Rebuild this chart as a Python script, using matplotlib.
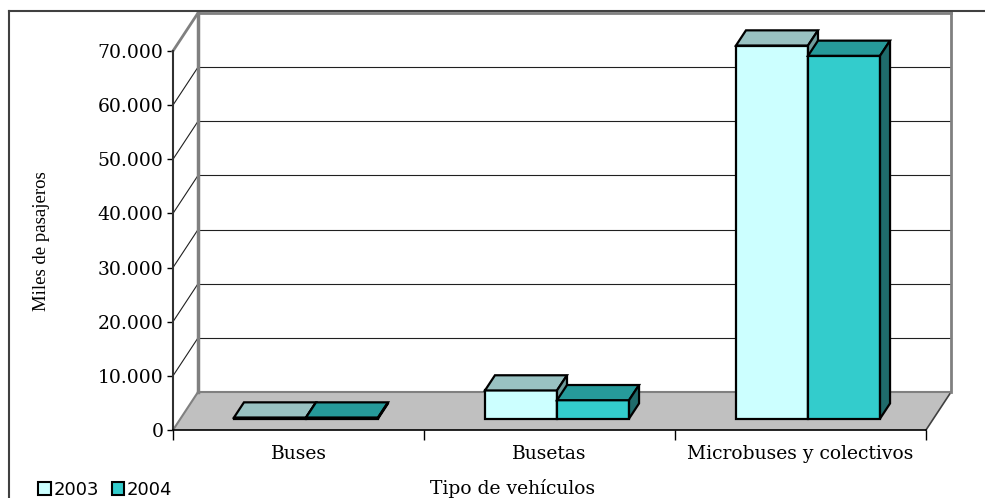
import matplotlib
matplotlib.use("Agg")
import matplotlib.pyplot as plt
from matplotlib.patches import Polygon, Patch
from matplotlib.lines import Line2D

# data
categories = ["Buses", "Busetas", "Microbuses y colectivos"]
series_names = ["2003", "2004"]
values_2003 = [200, 5200, 68900]
values_2004 = [200, 3400, 67000]
y_ticks = [0, 10000, 20000, 30000, 40000, 50000, 60000, 70000]

front_colors = ["#CCFFFF", "#33CCCC"]
top_colors = ["#99C2C2", "#269A9A"]
side_colors = ["#6E9C9C", "#1F6B6B"]

# fake 3d: depth offset of the back wall, in data units
DEPTH_X = 25 / 251
DEPTH_Y = 7010
Z0, Z1 = 0.30, 0.70        # bars sit in the middle of the floor depth
GAP = 0.213                # gap at each side of a bar group
BAR_W = (1 - 2 * GAP) / 2
YMAX = y_ticks[-1]


def proj(x, y, z):
    return (x + z * DEPTH_X, y + z * DEPTH_Y)


W, H = 985, 498
fig = plt.figure(figsize=(W / 100, H / 100), dpi=100)
ax = fig.add_axes([173 / W, (H - 430) / H, (951 - 173) / W, (430 - 13) / H])
ax.set_xlim(0, len(categories) + DEPTH_X)
ax.set_ylim(0, YMAX + DEPTH_Y)
ax.patch.set_visible(False)

n = len(categories)
gray = "#808080"

# floor
floor = [proj(0, 0, 0), proj(n, 0, 0), proj(n, 0, 1), proj(0, 0, 1)]
ax.add_patch(Polygon(floor, closed=True, facecolor="#C0C0C0", edgecolor="none", zorder=1))
ax.plot(*zip(proj(n, 0, 0), proj(n, 0, 1)), color="#404040", lw=1.2, zorder=2, clip_on=False)

# gridlines on back wall and side wall
for v in y_ticks[1:-1]:
    ax.plot(*zip(proj(0, v, 1), proj(n, v, 1)), color="#202020", lw=0.8, zorder=2)
    ax.plot(*zip(proj(0, v, 0), proj(0, v, 1)), color="#202020", lw=0.8, zorder=2)

# wall edges
ax.plot(*zip(proj(0, 0, 1), proj(n, 0, 1)), color=gray, lw=1.5, zorder=2)
ax.plot(*zip(proj(0, 0, 0), proj(0, 0, 1)), color=gray, lw=1.5, zorder=2)
ax.plot(*zip(proj(0, YMAX, 0), proj(0, YMAX, 1)), color=gray, lw=2, zorder=2, clip_on=False)
ax.plot(*zip(proj(0, 0, 1), proj(0, YMAX, 1)), color=gray, lw=2.5, zorder=2, clip_on=False)
ax.plot(*zip(proj(0, YMAX, 1), proj(n, YMAX, 1)), color=gray, lw=2, zorder=2, clip_on=False)
ax.plot(*zip(proj(n, 0, 1), proj(n, YMAX, 1)), color=gray, lw=2, zorder=2, clip_on=False)

# bars
for c in range(n):
    for s, vals in enumerate([values_2003, values_2004]):
        v = vals[c]
        x0 = c + GAP + s * BAR_W
        x1 = x0 + BAR_W
        front = [proj(x0, 0, Z0), proj(x1, 0, Z0), proj(x1, v, Z0), proj(x0, v, Z0)]
        top = [proj(x0, v, Z0), proj(x1, v, Z0), proj(x1, v, Z1), proj(x0, v, Z1)]
        side = [proj(x1, 0, Z0), proj(x1, 0, Z1), proj(x1, v, Z1), proj(x1, v, Z0)]
        z = 3 + c * 2 + s
        for poly, col in [(front, front_colors[s]), (top, top_colors[s]), (side, side_colors[s])]:
            ax.add_patch(Polygon(poly, closed=True, facecolor=col, edgecolor="black",
                                 lw=1.6, joinstyle="miter", zorder=z))

# axes, ticks, labels
for sp in ["top", "right"]:
    ax.spines[sp].set_visible(False)
ax.spines["left"].set_bounds(0, YMAX)
ax.spines["left"].set_color("#303030")
ax.spines["left"].set_linewidth(1.5)
ax.spines["bottom"].set_bounds(0, n)
ax.spines["bottom"].set_color("black")
ax.spines["bottom"].set_linewidth(1.2)

ax.set_yticks(y_ticks)
ax.set_yticklabels([f"{v:,}".replace(",", ".") for v in y_ticks],
                   fontfamily="DejaVu Serif", fontsize=13.5)
ax.tick_params(axis="y", direction="out", length=4, width=1, pad=3)

ax.set_xticks(range(n + 1))
ax.set_xticklabels([])
ax.set_xticks([c + 0.5 for c in range(n)], minor=True)
ax.set_xticklabels(categories, minor=True, fontfamily="DejaVu Serif", fontsize=13.5)
ax.tick_params(axis="x", which="major", direction="out", length=7, width=1)
ax.tick_params(axis="x", which="minor", length=0, pad=11)

fig.text(42 / W, 1 - 241 / H, "Miles de pasajeros", rotation=90, ha="center", va="center",
         fontfamily="Liberation Serif", fontsize=13.5)
fig.text(513 / W, 1 - 488 / H, "Tipo de vehículos", ha="center", va="center",
         fontfamily="DejaVu Serif", fontsize=13.5)

# chart frame
fig.add_artist(Line2D([9 / W, 9 / W], [0, 1 - 11 / H], color="#404040", lw=1.5))
fig.add_artist(Line2D([9 / W, 1], [1 - 11 / H, 1 - 11 / H], color="#404040", lw=1.5))

handles = [Patch(facecolor=front_colors[i], edgecolor="black", lw=1.5) for i in range(2)]
fig.legend(handles, series_names, loc="center left", bbox_to_anchor=(29 / W, 1 - 490 / H),
           ncol=2, frameon=False, handlelength=0.7, handleheight=0.7, handletextpad=0.15,
           columnspacing=0.7, prop={"family": "DejaVu Sans", "size": 13}, borderpad=0)

fig.savefig("out.png", dpi=100)
